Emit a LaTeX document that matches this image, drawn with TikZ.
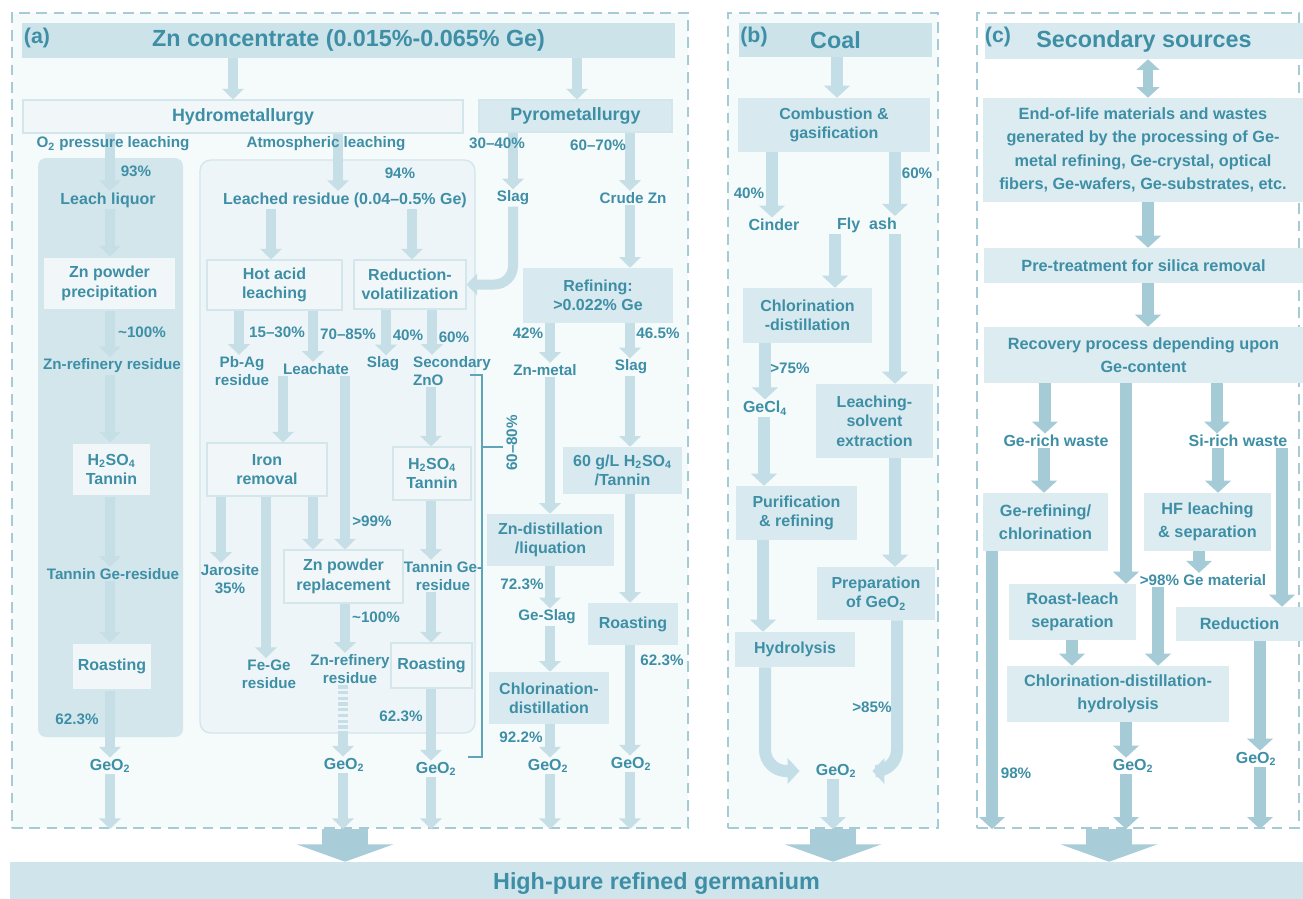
\documentclass[tikz,border=0pt]{standalone}
\usepackage{fontspec}
\setmainfont{Liberation Sans}
\usetikzlibrary{arrows.meta,calc}
\definecolor{txt}{HTML}{3E8FA6}
\definecolor{titlef}{HTML}{CCE3EA}
\definecolor{boxB}{HTML}{D8EAEF}
\definecolor{boxC}{HTML}{DCECF1}
\definecolor{boxL}{HTML}{F1F7F9}
\definecolor{boxLd}{HTML}{D3E6EC}
\definecolor{arrA}{HTML}{C6DFE7}
\definecolor{arrB}{HTML}{C3DEE6}
\definecolor{arrC}{HTML}{A5CBD7}
\definecolor{arrBig}{HTML}{A9CDD8}
\definecolor{dashc}{HTML}{A7CBD5}
\definecolor{panA}{HTML}{F5FAFB}
\definecolor{leftp}{HTML}{D2E6EC}
\definecolor{midp}{HTML}{EEF5F8}
\definecolor{barc}{HTML}{CFE4EB}
\definecolor{brk}{HTML}{5FA5B8}
\newcommand\fm{\bfseries\fontsize{12}{14.5}\selectfont}
\newcommand\fs{\bfseries\fontsize{11.4}{13.5}\selectfont}
\newcommand\fh{\bfseries\fontsize{13.4}{16}\selectfont}
\newcommand\ft{\bfseries\fontsize{17.5}{20}\selectfont}
\newcommand\fc{\bfseries\fontsize{12.2}{17.5}\selectfont}
\newcommand\pb[7][]{%
  \pgfmathsetmacro\pbw{(#5-#3)*0.75}%
  \pgfmathsetmacro\pbh{(#6-#4)*0.75}%
  \node[box,minimum width=\pbw pt,minimum height=\pbh pt,#1] (#2) at ({(#3+#5)/2},{(#4+#6)/2}) {#7};}
\pgfdeclarelayer{bg}
\pgfdeclarelayer{arr}
\pgfsetlayers{bg,arr,main}
\begin{document}
\begin{tikzpicture}[x=0.75pt,y=-0.75pt,
  box/.style={draw=none,fill=boxB,text=txt,font=\fm,align=center,inner sep=1pt},
  lite/.style={fill=boxL,draw=boxLd,line width=0.8pt},
  cbox/.style={fill=boxC,font=\fc},
  ttl/.style={fill=titlef,font=\ft},
  lbl/.style={text=txt,font=\fm,align=center,inner sep=1pt},
  pct/.style={text=txt,font=\fs,align=center,inner sep=1pt},
  aA/.style={draw=arrA,line width=7.5pt,-{Triangle[width=16pt,length=8pt]}},
  aB/.style={draw=arrB,line width=9pt,-{Triangle[width=19pt,length=9pt]}},
  aC/.style={draw=arrC,line width=9pt,-{Triangle[width=19pt,length=9pt]}},
  big/.style={draw=arrBig,line width=35pt,-{Triangle[width=72pt,length=13pt]}},
  panel/.style={draw=dashc,dash pattern=on 8pt off 5pt,line width=1.5pt,inner sep=0pt}]
\useasboundingbox (0,0) rectangle (1303,899);
\begin{pgfonlayer}{bg}
\fill[white] (0,0) rectangle (1303,899);
\pb[panel,fill=panA]{pa}{12}{13}{688}{828}{}
\pb[panel,fill=panA]{pb}{728}{13}{938}{828}{}
\pb[panel,fill=white]{pc}{977}{13}{1299}{828}{}
\fill[leftp,rounded corners=6pt] (38,158) rectangle (183,737);
\filldraw[fill=midp,draw=boxLd,line width=1pt,rounded corners=8pt] (200,160) rectangle (475,733);
\end{pgfonlayer}

% bottom bar
\pb[fill=barc,font=\ft]{bar}{10}{862}{1303}{906}{High-pure refined germanium}

% ---------------- panel (a)
\pb[ttl]{zn}{22}{23}{675}{58}{Zn concentrate (0.015\%-0.065\% Ge)}
\node[lbl,font=\bfseries\fontsize{16}{18}\selectfont] (la) at (37,38) {(a)};
\pb[fill=boxL,draw=boxLd,line width=0.8pt,font=\fh]{hydro}{23}{100}{463}{133}{Hydrometallurgy}
\pb[fill=boxB,draw=boxLd,line width=0.8pt,font=\fh]{pyro}{479}{100}{672}{132}{Pyrometallurgy}
\node[pct] (o2) at (113,144) {O\textsubscript{2} pressure leaching};
\node[pct] (atm) at (326,144) {Atmospheric leaching};
\node[pct] (p3040) at (497,143) {30–40\%};
\node[pct] (p6070) at (598,145) {60–70\%};
% left column
\node[pct] (p93) at (136,171) {93\%};
\node[lbl] (ll) at (108,200) {Leach liquor};
\pb[lite]{znpp}{43}{257}{176}{310}{Zn powder\\precipitation}
\node[pct] (p100a) at (142,332) {\textasciitilde100\%};
\node[pct] (zrr) at (112,366) {Zn-refinery residue};
\pb[lite]{h2l}{72}{443}{151}{496}{H\textsubscript{2}SO\textsubscript{4}\\Tannin}
\node[pct] (tgr) at (113,574) {Tannin Ge-residue};
\pb[lite]{roL}{72}{643}{152}{690}{Roasting}
\node[pct] (p623a) at (77,719) {62.3\%};
\node[lbl] (geoL) at (110,766) {GeO\textsubscript{2}};
% middle column
\node[pct] (p94) at (400,173) {94\%};
\node[lbl] (lres) at (345,200) {Leached residue (0.04–0.5\% Ge)};
\pb[lite]{hot}{207}{260}{342}{310}{Hot acid\\leaching}
\pb[lite]{redv}{354}{260}{466}{309}{Reduction-\\volatilization}
\node[pct] (p1530) at (277,332) {15–30\%};
\node[pct] (p7085) at (348,334) {70–85\%};
\node[pct] (p40m) at (408,335) {40\%};
\node[pct] (p60m) at (454,337) {60\%};
\node[pct] (pbag) at (242,371) {Pb-Ag\\residue};
\node[pct] (leach) at (316,369) {Leachate};
\node[pct] (slagm) at (383,364) {Slag};
\node[pct,align=left] (szno) at (452,371) {Secondary\\ZnO};
\pb[lite]{iron}{207}{443}{327}{496}{Iron\\removal}
\node[pct] (p99) at (372,521) {>99\%};
\node[pct] (jar) at (230,579) {Jarosite\\35\%};
\pb[lite]{znrep}{284}{550}{403}{603}{Zn powder\\replacement}
\node[pct] (p100b) at (376,617) {\textasciitilde100\%};
\node[pct] (fege) at (269,674) {Fe-Ge\\residue};
\node[pct] (zrr2) at (350,669) {Zn-refinery\\residue};
\node[lbl] (geoM1) at (344,765) {GeO\textsubscript{2}};
\pb[lite]{h2m}{393}{447}{471}{500}{H\textsubscript{2}SO\textsubscript{4}\\Tannin}
\node[pct] (tgr2) at (443,576) {Tannin Ge-\\residue};
\pb[lite]{roM}{391}{643}{472}{688}{Roasting}
\node[pct] (p623b) at (401,716) {62.3\%};
\node[lbl] (geoM2) at (436,769) {GeO\textsubscript{2}};
% pyro column
\node[pct] (slagp) at (513,198) {Slag};
\node[pct] (crude) at (633,198) {Crude Zn};
\pb{refn}{523}{268}{673}{323}{Refining:\\>0.022\% Ge}
\node[pct] (p42) at (528,333) {42\%};
\node[pct] (p465) at (658,333) {46.5\%};
\node[pct] (znm) at (545,370) {Zn-metal};
\node[pct] (slagr) at (631,367) {Slag};
\pb{h2r}{563}{447}{682}{494}{60 g/L H\textsubscript{2}SO\textsubscript{4}\\/Tannin}
\pb{zndist}{487}{514}{614}{566}{Zn-distillation\\/liquation}
\node[pct] (p723) at (522,584) {72.3\%};
\node[pct] (geslag) at (547,617) {Ge-Slag};
\pb{roR}{588}{603}{678}{645}{Roasting}
\node[pct] (p623c) at (662,660) {62.3\%};
\pb{chlR}{489}{672}{609}{724}{Chlorination-\\distillation}
\node[pct] (p922) at (521,737) {92.2\%};
\node[lbl] (geoR1) at (548,766) {GeO\textsubscript{2}};
\node[lbl] (geoR2) at (631,764) {GeO\textsubscript{2}};
\node[pct,rotate=90] (p6080) at (512,443) {60–80\%};
\draw[brk,line width=1.5pt] (470,375) -- (482,375) -- (482,757) -- (468,757);
\draw[brk,line width=1.5pt] (482,447) -- (503,447);

% ---------------- panel (b)
\pb[ttl]{coal}{739}{23}{932}{57}{Coal}
\node[lbl,font=\bfseries\fontsize{16}{18}\selectfont] (lb) at (754,37) {(b)};
\pb{comb}{738}{98}{930}{152}{Combustion \&\\gasification}
\node[pct] (p40b) at (749,193) {40\%};
\node[pct] (p60b) at (917,173) {60\%};
\node[lbl] (cinder) at (774,225) {Cinder};
\node[lbl] (fly) at (867,225) {Fly\ \ ash};
\pb{chlB}{743}{288}{872}{343}{Chlorination\\-distillation}
\node[pct] (p75) at (790,368) {>75\%};
\node[lbl] (gecl) at (765,408) {GeCl\textsubscript{4}};
\pb{lse}{816}{384}{933}{458}{Leaching-\\solvent\\extraction}
\pb{purif}{736}{486}{857}{540}{Purification\\\& refining}
\pb{prep}{817}{567}{935}{620}{Preparation\\of GeO\textsubscript{2}}
\pb{hyd}{735}{632}{855}{667}{Hydrolysis}
\node[pct] (p85) at (872,707) {>85\%};
\node[lbl,inner xsep=12pt] (geoB) at (836,771) {GeO\textsubscript{2}};

% ---------------- panel (c)
\pb[ttl,fill=boxB]{sec}{985}{23}{1303}{59}{Secondary sources}
\node[lbl,font=\bfseries\fontsize{16}{18}\selectfont] (lc) at (998,37) {(c)};
\pb[cbox]{eol}{983}{98}{1303}{202}{End-of-life materials and wastes\\generated by the processing of Ge-\\metal refining, Ge-crystal, optical\\fibers, Ge-wafers, Ge-substrates, etc.}
\pb[cbox]{pre}{984}{248}{1303}{283}{Pre-treatment for silica removal}
\pb[cbox]{rec}{984}{327}{1303}{383}{Recovery process depending upon\\Ge-content}
\node[lbl] (gerich) at (1056,441) {Ge-rich waste};
\node[lbl] (sirich) at (1238,441) {Si-rich waste};
\pb[cbox]{gref}{983}{493}{1108}{551}{Ge-refining/\\chlorination}
\pb[cbox]{hf}{1144}{493}{1271}{551}{HF leaching\\\& separation}
\node[pct] (ge98) at (1203,580) {>98\% Ge material};
\pb[cbox]{rl}{1009}{584}{1136}{640}{Roast-leach\\separation}
\pb[cbox]{red}{1176}{607}{1303}{641}{Reduction}
\pb[cbox]{cdh}{1007}{666}{1229}{722}{Chlorination-distillation-\\hydrolysis}
\node[pct] (p98) at (1016,773) {98\%};
\node[lbl] (geoC1) at (1133,766) {GeO\textsubscript{2}};
\node[lbl] (geoC2) at (1256,759) {GeO\textsubscript{2}};

% ---------------- connectors
\begin{pgfonlayer}{arr}
% (a)
\draw[aA] (zn.south -| 233,0) -- (hydro.north -| 233,0);
\draw[aA] (zn.south -| 577,0) -- (pyro.north -| 577,0);
\draw[aA] (hydro.south -| 110,0) -- (ll.north -| 110,0);
\draw[aA] (ll.south -| 110,0) -- (znpp.north -| 110,0);
\draw[aA] (znpp.south -| 110,0) -- (zrr.north -| 110,0);
\draw[aA] (zrr.south -| 110,0) -- (h2l.north -| 110,0);
\draw[aA] (h2l.south -| 110,0) -- (tgr.north -| 110,0);
\draw[aA] (tgr.south -| 110,0) -- (roL.north -| 110,0);
\draw[aA] (roL.south -| 110,0) -- (geoL.north -| 110,0);
\draw[aA] (geoL.south -| 110,0) -- (pa.south -| 110,0);
\draw[aA] (hydro.south -| 338,0) -- (lres.north -| 338,0);
\draw[aA] (lres.south -| 271,0) -- (hot.north -| 271,0);
\draw[aA] (lres.south -| 412,0) -- (redv.north -| 412,0);
\draw[aA] (hot.south -| 239,0) -- (pbag.north -| 239,0);
\draw[aA] (hot.south -| 313,0) -- (leach.north -| 313,0);
\draw[aA] (redv.south -| 386,0) -- (slagm.north -| 386,0);
\draw[aA] (redv.south -| 432,0) -- (szno.north -| 432,0);
\draw[aA] (leach.south -| 283,0) -- (iron.north -| 283,0);
\draw[aA] (leach.south -| 345,0) -- (znrep.north -| 345,0);
\draw[aA] (iron.south -| 221,0) -- (jar.north -| 221,0);
\draw[aA] (iron.south -| 266,0) -- (fege.north -| 266,0);
\draw[aA] (iron.south -| 313,0) -- (znrep.north -| 313,0);
\draw[aA] (znrep.south -| 345,0) -- (zrr2.north -| 345,0);
\draw[aA,-,dash pattern=on 2.5pt off 1.8pt] (zrr2.south -| 343,0) -- (343,735);
\draw[aA] (343,734) -- (geoM1.north -| 343,0);
\draw[aA] (geoM1.south -| 343,0) -- (pa.south -| 343,0);
\draw[aA] (szno.south -| 431,0) -- (h2m.north -| 431,0);
\draw[aA] (h2m.south -| 431,0) -- (tgr2.north -| 431,0);
\draw[aA] (tgr2.south -| 431,0) -- (roM.north -| 431,0);
\draw[aA] (roM.south -| 431,0) -- (geoM2.north -| 431,0);
\draw[aA] (geoM2.south -| 431,0) -- (pa.south -| 431,0);
\draw[aA] (pyro.south -| 513,0) -- (slagp.north -| 513,0);
\draw[aA] (pyro.south -| 630,0) -- (crude.north -| 630,0);
\draw[aA,rounded corners=14pt] (slagp.south -| 513,0) -- (redv.east -| 513,0) -- (redv.east);
\draw[aA] (crude.south -| 630,0) -- (refn.north -| 630,0);
\draw[aA] (refn.south -| 550,0) -- (znm.north -| 550,0);
\draw[aA] (refn.south -| 630,0) -- (slagr.north -| 630,0);
\draw[aA] (znm.south -| 550,0) -- (zndist.north -| 550,0);
\draw[aA] (slagr.south -| 630,0) -- (h2r.north -| 630,0);
\draw[aA] (h2r.south -| 630,0) -- (roR.north -| 630,0);
\draw[aA] (roR.south -| 630,0) -- (geoR2.north -| 630,0);
\draw[aA] (geoR2.south -| 630,0) -- (pa.south -| 630,0);
\draw[aA] (zndist.south -| 550,0) -- (geslag.north -| 550,0);
\draw[aA] (geslag.south -| 550,0) -- (chlR.north -| 550,0);
\draw[aA] (chlR.south -| 550,0) -- (geoR1.north -| 550,0);
\draw[aA] (geoR1.south -| 550,0) -- (pa.south -| 550,0);
% (b)
\draw[aB] (coal.south -| 837,0) -- (comb.north -| 837,0);
\draw[aB] (comb.south -| 772,0) -- (cinder.north -| 772,0);
\draw[aB] (comb.south -| 895,0) -- (fly.north -| 895,0);
\draw[aB] (fly.south -| 835,0) -- (chlB.north -| 835,0);
\draw[aB] (fly.south -| 895,0) -- (lse.north -| 895,0);
\draw[aB] (chlB.south -| 765,0) -- (gecl.north -| 765,0);
\draw[aB] (gecl.south -| 764,0) -- (purif.north -| 764,0);
\draw[aB] (lse.south -| 895,0) -- (prep.north -| 895,0);
\draw[aB] (purif.south -| 763,0) -- (hyd.north -| 763,0);
\draw[aB,rounded corners=16pt] (hyd.south -| 765,0) -- (geoB.west -| 765,0) -- (geoB.west);
\draw[aB,rounded corners=16pt] (prep.south -| 897,0) -- (geoB.east -| 897,0) -- (geoB.east);
\draw[aB] (geoB.south -| 833,0) -- (pb.south -| 833,0);
% (c)
\draw[aC,{Triangle[width=17pt,length=8pt]}-{Triangle[width=17pt,length=8pt]},line width=7.5pt] (sec.south -| 1148,0) -- (eol.north -| 1148,0);
\draw[aC] (eol.south -| 1148,0) -- (pre.north -| 1148,0);
\draw[aC] (pre.south -| 1148,0) -- (rec.north -| 1148,0);
\draw[aC] (rec.south -| 1045,0) -- (gerich.north -| 1045,0);
\draw[aC] (rec.south -| 1217,0) -- (sirich.north -| 1217,0);
\draw[aC] (rec.south -| 1126,0) -- (rl.north -| 1126,0);
\draw[aC] (gerich.south -| 1044,0) -- (gref.north -| 1044,0);
\draw[aC] (sirich.south -| 1218,0) -- (hf.north -| 1218,0);
\draw[aC] (sirich.south -| 1282,0) -- (red.north -| 1282,0);
\draw[aC] (hf.south -| 1199,0) -- (ge98.north -| 1199,0);
\draw[aC] (ge98.south -| 1158,0) -- (cdh.north -| 1158,0);
\draw[aC] (rl.south -| 1072,0) -- (cdh.north -| 1072,0);
\draw[aC] (gref.south -| 992,0) -- (pc.south -| 992,0);
\draw[aC] (cdh.south -| 1126,0) -- (geoC1.north -| 1126,0);
\draw[aC] (geoC1.south -| 1126,0) -- (pc.south -| 1126,0);
\draw[aC] (red.south -| 1260,0) -- (geoC2.north -| 1260,0);
\draw[aC] (geoC2.south -| 1260,0) -- (pc.south -| 1260,0);
% big arrows
\draw[big] (pa.south -| 345,0) -- (bar.north -| 345,0);
\draw[big] (pb.south -| 833,0) -- (bar.north -| 833,0);
\draw[big] (pc.south -| 1109,0) -- (bar.north -| 1109,0);
\end{pgfonlayer}
\end{tikzpicture}
\end{document}
